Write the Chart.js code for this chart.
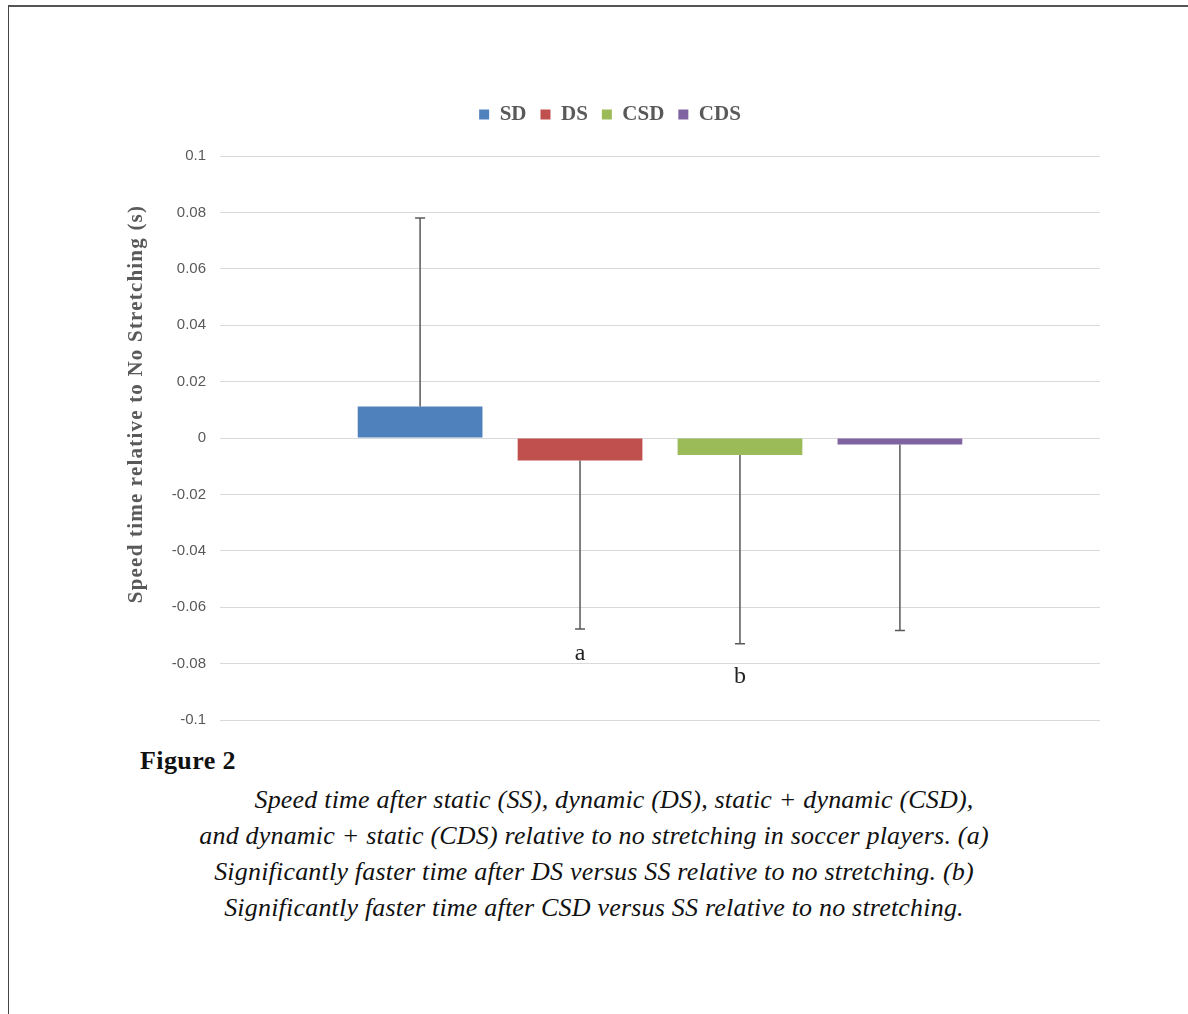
<!DOCTYPE html>
<html>
<head>
<meta charset="utf-8">
<script src="https://cdn.jsdelivr.net/npm/chart.js@4/dist/chart.umd.min.js"></script>
<style>
  body { margin: 0; background: #fff; width: 1188px; height: 1014px; overflow: hidden; position: relative; }
  #frame { position: absolute; left: 8px; top: 5px; right: -2px; bottom: -2px; border-top: 2px solid #555; border-left: 1.5px solid #444; }
  #wrap { position: absolute; left: 120px; top: 90px; }
  #figlabel { position: absolute; left: 140px; top: 746px; font: bold 26px 'Liberation Serif', serif; letter-spacing: 0.4px; color: #111; }
  #caption { position: absolute; left: 94px; width: 1000px; top: 782px; text-align: center;
             font: italic 26px/36px 'Liberation Serif', serif; letter-spacing: 0.2px; color: #111; }
  #caption .first { padding-left: 40px; }
</style>
</head>
<body>
<div id="frame"></div>
<div id="wrap"><canvas id="speedChart" width="982" height="653"></canvas></div>
<div id="figlabel">Figure 2</div>
<div id="caption">
  <span class="first">Speed time after static (SS), dynamic (DS), static + dynamic (CSD),</span><br>
  and dynamic + static (CDS) relative to no stretching in soccer players. (a)<br>
  Significantly faster time after DS versus SS relative to no stretching. (b)<br>
  Significantly faster time after CSD versus SS relative to no stretching.
</div>

<script>
// speed time chart

const groups = ['SD', 'DS', 'CSD', 'CDS'];
const meanValues = [0.0112, -0.0080, -0.0060, -0.0023];
const errValues = [0.0668, 0.0597, 0.0670, 0.0660];
const sigLabels = ['', 'a', 'b', ''];
const sigLabelPos = [null, -0.0765, -0.0845, null];
const barColors = ['#4F81BD', '#C0504D', '#9BBB59', '#8064A2'];
const yMin = -0.1, yMax = 0.1, yStep = 0.02;

const textGrey = '#595959';

// error bars + significance letters
const errorBarPlugin = {
    id: 'errorBars',
    afterDatasetsDraw(chart) {
        const ctx = chart.ctx;
        const yScale = chart.scales.y;
        ctx.save();
        chart.data.datasets.forEach((ds, i) => {
            const bar = chart.getDatasetMeta(i).data[0];
            if(!bar) return;
            const v = meanValues[i];
            const dir = v >= 0 ? 1 : -1;
            const yStart = yScale.getPixelForValue(v);
            const yEnd = yScale.getPixelForValue(v + dir * errValues[i]);
            ctx.strokeStyle = '#595959';
            ctx.lineWidth = 1.5;
            ctx.beginPath();
            ctx.moveTo(bar.x, yStart);
            ctx.lineTo(bar.x, yEnd);
            ctx.moveTo(bar.x - 5, yEnd);
            ctx.lineTo(bar.x + 5, yEnd);
            ctx.stroke();

            if(sigLabels[i]) {
                ctx.fillStyle = '#222';
                ctx.font = '24px "Liberation Serif", serif';
                ctx.textAlign = 'center';
                ctx.textBaseline = 'middle';
                ctx.fillText(sigLabels[i], bar.x, yScale.getPixelForValue(sigLabelPos[i]));
            }
        });
        ctx.restore();
    }
};

// y axis title, drawn a bit above the middle like in the original
const yTitlePlugin = {
    id: 'yTitle',
    afterDraw(chart) {
        const ctx = chart.ctx;
        const area = chart.chartArea;
        ctx.save();
        ctx.translate(area.left - 83, (area.top + area.bottom) / 2 - 34);
        ctx.rotate(-Math.PI / 2);
        ctx.fillStyle = textGrey;
        ctx.font = 'bold 21px "Liberation Serif", serif';
        ctx.letterSpacing = '1.2px';
        ctx.textAlign = 'center';
        ctx.textBaseline = 'middle';
        ctx.fillText('Speed time relative to No Stretching (s)', 0, 0);
        ctx.restore();
    }
};

// extra space under legend
const legendGap = {
    id: 'legendGap',
    beforeInit(chart) {
        const origFit = chart.legend.fit;
        chart.legend.fit = function() {
            origFit.bind(chart.legend)();
            this.height += 21;
        };
    }
};

const ctx = document.getElementById('speedChart').getContext('2d');

new Chart(ctx, {
    type: 'bar',
    data: {
        labels: [''],
        datasets: groups.map((g, i) => ({
            label: g,
            data: [meanValues[i]],
            backgroundColor: barColors[i],
            borderWidth: 0,
            categoryPercentage: 0.727,
            barPercentage: 0.78
        }))
    },
    options: {
        responsive: false,
        animation: false,
        layout: { padding: { left: 0, right: 2, top: 0, bottom: 17 } },
        scales: {
            x: { display: false },
            y: {
                min: yMin,
                max: yMax,
                afterFit: s => { s.width = 100; },
                ticks: {
                    stepSize: yStep,
                    padding: 14,
                    color: textGrey,
                    font: { family: '"Liberation Sans", sans-serif', size: 15 },
                    callback: v => parseFloat(Number(v).toFixed(2)).toString()
                },
                grid: { color: '#d9d9d9', lineWidth: 1, drawTicks: false },
                border: { display: false }
            }
        },
        plugins: {
            legend: {
                position: 'top',
                labels: {
                    boxWidth: 10,
                    boxHeight: 10,
                    padding: 14,
                    color: textGrey,
                    font: { family: '"Liberation Serif", serif', size: 21, weight: 'bold' }
                }
            },
            tooltip: { enabled: false }
        }
    },
    plugins: [errorBarPlugin, yTitlePlugin, legendGap]
});
</script>
</body>
</html>
